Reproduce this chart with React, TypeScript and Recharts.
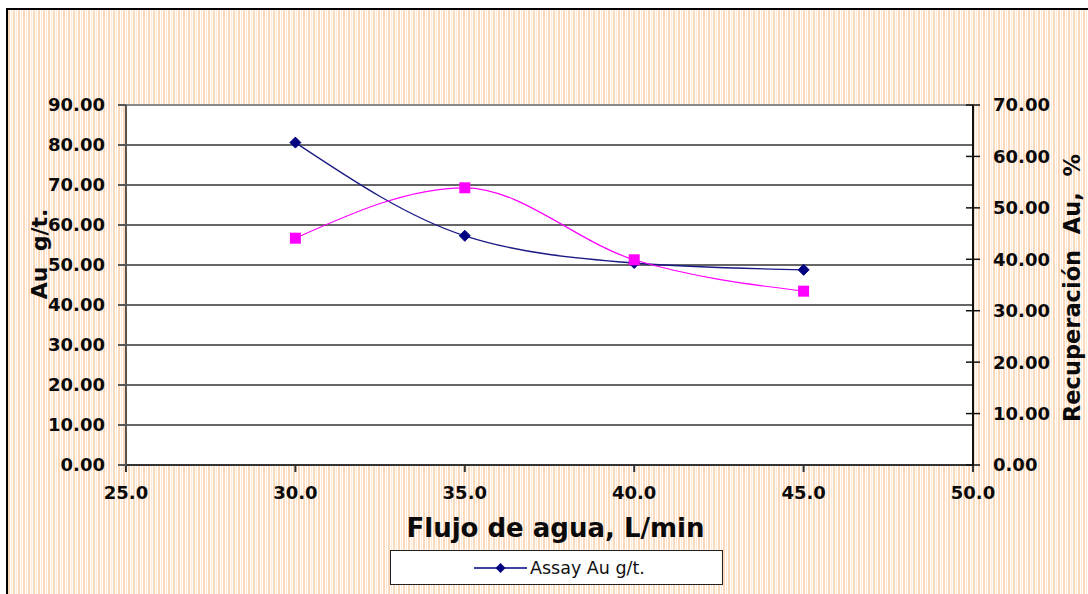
import React from 'react';
import { LineChart, Line, XAxis, YAxis, CartesianGrid, ReferenceLine, Label } from 'recharts';

// water flow, L/min
const flow = [30, 35, 40, 45];
// Assay Au g/t. (left axis)
const assayAu = [80.6, 57.3, 50.5, 48.8];
// Recuperación Au, % (right axis)
const recovery = [44.1, 53.9, 39.9, 33.8];

const xTicks = [25, 30, 35, 40, 45, 50];
const leftTicks = [0, 10, 20, 30, 40, 50, 60, 70, 80, 90];
const rightTicks = [0, 10, 20, 30, 40, 50, 60, 70];

const data = flow.map((f, i) => ({ flow: f, assay: assayAu[i], recovery: recovery[i] }));

const FONT = '"DejaVu Sans", Verdana, sans-serif';
const STRIPES =
  'repeating-linear-gradient(90deg, #fcd9bb 0px, #fcd9bb 2px, #ffffff 2px, #ffffff 3px, #fee8d6 3px, #fee8d6 4px, #ffffff 4px, #ffffff 5px)';

const tickStyle = { fontFamily: FONT, fontSize: 18, fontWeight: 700, fill: '#0a0a0a' };

const Diamond = (props: any) => {
  const { cx, cy } = props;
  if (cx == null || cy == null) return null;
  const r = 5.5;
  return <path d={`M${cx},${cy - r}L${cx + r},${cy}L${cx},${cy + r}L${cx - r},${cy}Z`} fill="#000080" stroke="#000080" />;
};

const Square = (props: any) => {
  const { cx, cy } = props;
  if (cx == null || cy == null) return null;
  const s = 5.5;
  return <rect x={cx - s} y={cy - s} width={s * 2} height={s * 2} fill="#ff00ff" />;
};

// right axis ticks cross the axis line
const RightTick = (props: any) => {
  const { x, y, payload } = props;
  const axisX = x - 20;
  return (
    <g>
      <line x1={axisX - 7} x2={axisX + 7} y1={y} y2={y} stroke="#111" strokeWidth={1.5} />
      <text x={x} y={y} dy="0.36em" textAnchor="start" style={tickStyle}>
        {payload.value.toFixed(2)}
      </text>
    </g>
  );
};

export default function App() {
  return (
    <div style={{ position: 'absolute', left: 0, top: 0, width: 1088, height: 594, overflow: 'hidden', background: '#fff' }}>
      <div
        style={{
          position: 'absolute',
          left: 6,
          top: 8,
          width: 1100,
          height: 600,
          borderLeft: '2px solid #000',
          borderTop: '2px solid #000',
          background: STRIPES,
        }}
      />
      <div style={{ position: 'absolute', left: 0, top: 0 }}>
        <LineChart width={1088} height={594} data={data} margin={{ top: 105, right: 0, bottom: 89, left: 0 }}>
          <CartesianGrid yAxisId="left" vertical={false} stroke="#333" strokeWidth={1.4} fill="#fff" fillOpacity={1} />
          <ReferenceLine yAxisId="left" y={90} stroke="#8a8a8a" strokeWidth={2} />
          <XAxis
            dataKey="flow"
            type="number"
            domain={[25, 50]}
            ticks={xTicks}
            tickFormatter={(v: number) => v.toFixed(1)}
            height={40}
            stroke="#333"
            strokeWidth={2}
            tickSize={7}
            tickMargin={14}
            tick={tickStyle}
            allowDataOverflow
          >
            <Label
              content={(p: any) => {
                const vb = p.viewBox;
                return (
                  <text
                    x={vb.x + 429.5}
                    y={537}
                    textAnchor="middle"
                    style={{ fontFamily: FONT, fontSize: 26, fontWeight: 700, fill: '#0a0a0a' }}
                  >
                    Flujo de agua, L/min
                  </text>
                );
              }}
            />
          </XAxis>
          <YAxis
            yAxisId="left"
            domain={[0, 90]}
            ticks={leftTicks}
            tickFormatter={(v: number) => v.toFixed(2)}
            width={126}
            stroke="#555"
            strokeWidth={2}
            tickSize={8}
            tickMargin={13}
            tick={tickStyle}
            interval={0}
          >
            <Label
              content={() => (
                <text
                  x={39}
                  y={254}
                  transform="rotate(-90 39 254)"
                  textAnchor="middle"
                  dominantBaseline="central"
                  style={{ fontFamily: FONT, fontSize: 22, fontWeight: 700, fill: '#0a0a0a', whiteSpace: 'pre' }}
                >
                  {'Au  g/t.'}
                </text>
              )}
            />
          </YAxis>
          <YAxis
            yAxisId="right"
            orientation="right"
            domain={[0, 70]}
            ticks={rightTicks}
            width={115}
            stroke="#111"
            strokeWidth={2}
            tickLine={false}
            tickSize={7}
            tickMargin={13}
            tick={<RightTick />}
            interval={0}
          >
            <Label
              content={() => (
                <text
                  x={1072}
                  y={288}
                  transform="rotate(-90 1072 288)"
                  textAnchor="middle"
                  dominantBaseline="central"
                  style={{ fontFamily: FONT, fontSize: 22.5, fontWeight: 700, fill: '#0a0a0a', whiteSpace: 'pre' }}
                >
                  {'Recuperación  Au,  %'}
                </text>
              )}
            />
          </YAxis>
          <Line
            yAxisId="left"
            type="monotone"
            dataKey="assay"
            stroke="#1a1a85"
            strokeWidth={1.3}
            dot={<Diamond />}
            activeDot={false}
            isAnimationActive={false}
          />
          <Line
            yAxisId="right"
            type="monotone"
            dataKey="recovery"
            stroke="#ff00ff"
            strokeWidth={1.2}
            dot={<Square />}
            activeDot={false}
            isAnimationActive={false}
          />
        </LineChart>
      </div>
      {/* legend box, only the assay series is listed */}
      <div
        style={{
          position: 'absolute',
          left: 390,
          top: 550,
          width: 333,
          height: 35,
          background: '#fff',
          border: '1px solid #222',
          boxSizing: 'border-box',
        }}
      >
        <svg width={60} height={20} style={{ position: 'absolute', left: 83, top: 7 }}>
          <line x1={0} x2={53} y1={10} y2={10} stroke="#000080" strokeWidth={1.5} />
          <path d="M26.5,5L31.5,10L26.5,15L21.5,10Z" fill="#000080" />
        </svg>
        <span
          style={{
            position: 'absolute',
            left: 139,
            top: 6,
            fontFamily: FONT,
            fontSize: 17.5,
            lineHeight: '22px',
            color: '#111',
            whiteSpace: 'nowrap',
          }}
        >
          Assay Au g/t.
        </span>
      </div>
    </div>
  );
}
